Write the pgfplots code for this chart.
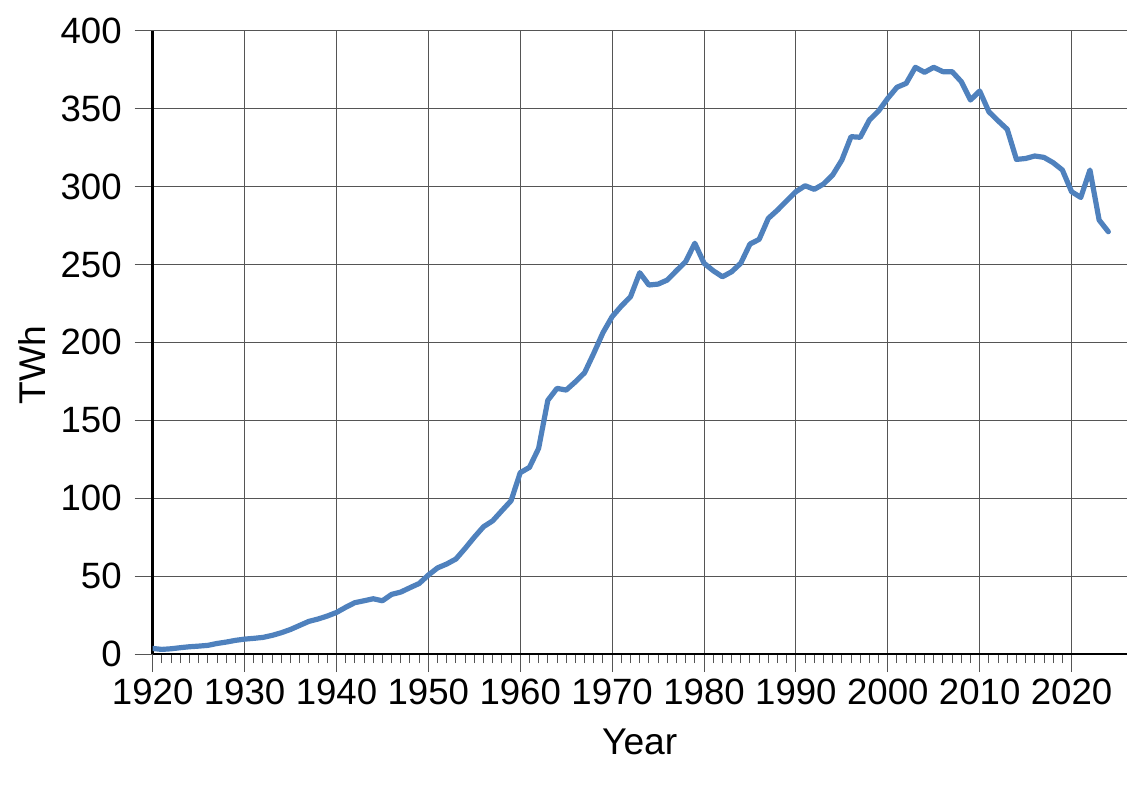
\documentclass[border=0pt]{standalone}
\usepackage{pgfplots}
\pgfplotsset{compat=1.18}
\usepackage{fontspec}
\setmainfont{Liberation Sans}
\usetikzlibrary{calc}
\definecolor{lineblue}{RGB}{79,129,189}
\definecolor{gridgray}{RGB}{85,85,85}
\begin{document}
\begin{tikzpicture}
\begin{axis}[
  scale only axis,
  width=487pt, height=311.7pt,
  xmin=1920, xmax=2026, ymin=0, ymax=400,
  axis x line=bottom, axis y line=left,
  axis line style={-, line width=1.2pt, black},
  xtick={1920,1930,...,2020},
  ytick={0,50,...,400},
  minor x tick num=9,
  tick align=outside,
  major tick length=9pt,
  minor tick length=4.5pt,
  every tick/.style={gridgray, line width=0.5pt},
  grid=major,
  major grid style={gridgray, line width=0.5pt},
  /pgf/number format/assume math mode=true,
  tick label style={font=\fontsize{18.3}{22}\selectfont},
  xticklabel style={/pgf/number format/1000 sep={}},
  yticklabel style={/pgf/number format/1000 sep={}, xshift=-3pt},
  xlabel={Year},
  ylabel={TWh},
  every axis x label/.style={at={(axis description cs:0.5,0)}, anchor=center, yshift=-44pt, font=\fontsize{18.6}{22}\selectfont},
  every axis y label/.style={at={(axis description cs:-0.1238,0.464)}, anchor=center, rotate=90, font=\fontsize{18.6}{22}\selectfont},
]
\addplot[lineblue, line width=2.6pt, line join=round, line cap=round] coordinates {
(1920,3.6) (1921,3.0) (1922,3.4) (1923,4.1) (1924,4.7) (1925,5.1) (1926,5.6) (1927,6.8) (1928,7.7) (1929,8.8)
(1930,9.6) (1931,10.1) (1932,10.7) (1933,12.0) (1934,13.7) (1935,15.8) (1936,18.4) (1937,21.0) (1938,22.5) (1939,24.4)
(1940,26.7) (1941,30.0) (1942,33.0) (1943,34.2) (1944,35.5) (1945,34.2) (1946,38.3) (1947,39.8) (1948,42.6) (1949,45.3)
(1950,50.7) (1951,55.3) (1952,57.8) (1953,61.0) (1954,67.8) (1955,75.0) (1956,81.7) (1957,85.5) (1958,92.0) (1959,98.4)
(1960,116.4) (1961,119.8) (1962,132.0) (1963,162.8) (1964,170.5) (1965,169.4) (1966,174.7) (1967,180.5) (1968,193.0) (1969,206.2)
(1970,216.5) (1971,223.3) (1972,229.3) (1973,244.7) (1974,236.8) (1975,237.4) (1976,240.0) (1977,246.0) (1978,251.8) (1979,263.6)
(1980,250.8) (1981,246.0) (1982,242.1) (1983,245.3) (1984,250.8) (1985,263.1) (1986,266.1) (1987,279.6) (1988,284.9) (1989,290.9)
(1990,296.7) (1991,300.5) (1992,298.2) (1993,301.6) (1994,307.4) (1995,317.0) (1996,332.0) (1997,331.6) (1998,342.7) (1999,348.5)
(2000,356.6) (2001,363.7) (2002,366.2) (2003,376.5) (2004,373.3) (2005,376.5) (2006,373.7) (2007,373.7) (2008,367.3) (2009,355.5)
(2010,361.3) (2011,348.0) (2012,342.2) (2013,336.7) (2014,317.4) (2015,318.0) (2016,319.6) (2017,318.7) (2018,315.3) (2019,310.6)
(2020,296.7) (2021,293.0) (2022,310.6) (2023,278.5) (2024,271.0)
};
\end{axis}
\path ($(current axis.south west)+(-76.35pt,-69.5pt)$) rectangle ($(current axis.north east)+(10.15pt,15.35pt)$);
\end{tikzpicture}
\end{document}
